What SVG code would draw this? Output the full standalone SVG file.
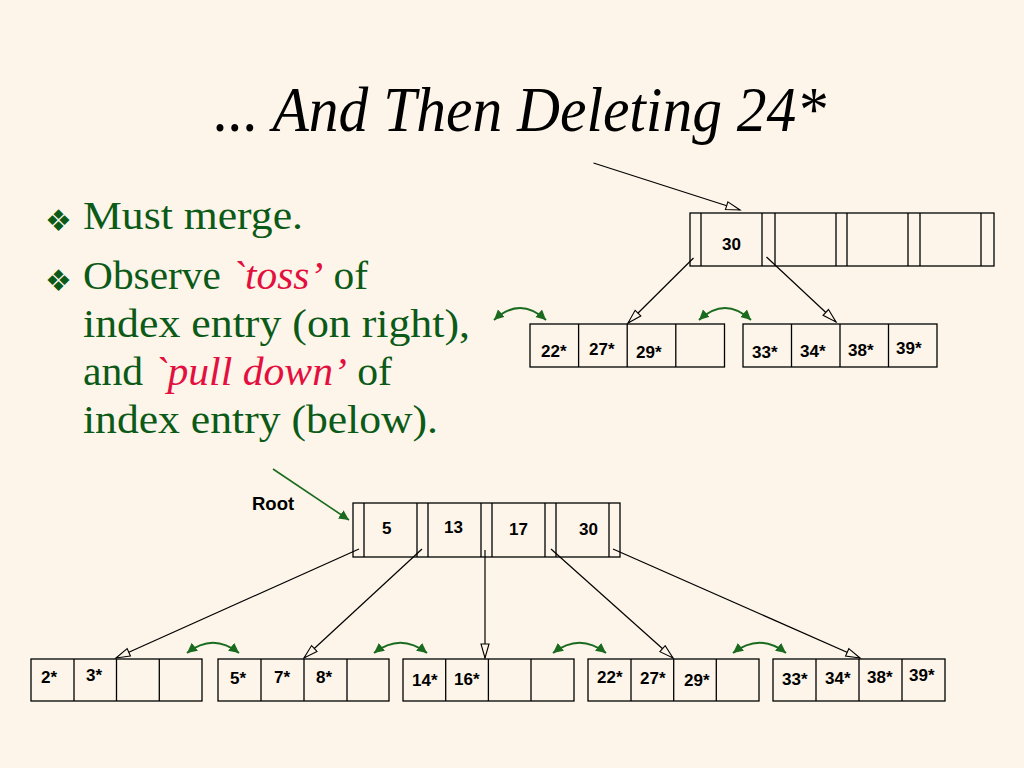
<svg xmlns="http://www.w3.org/2000/svg" width="1024" height="768" viewBox="0 0 1024 768">
<defs>
<style>
.box{fill:none;stroke:#000;stroke-width:1.3}
.div{stroke:#000;stroke-width:1.3}
.num{font-family:"Liberation Sans",Arial,sans-serif;font-weight:bold;font-size:17px;fill:#000}
.ptr{fill:none;stroke:#000;stroke-width:1.2;marker-end:url(#open)}
.sib{fill:none;stroke:#1a6b1f;stroke-width:2;marker-start:url(#gh);marker-end:url(#gh)}
.title{font-family:"Liberation Serif","Times New Roman",serif;font-style:italic;font-size:64px;fill:#000}
.body{font-family:"Liberation Serif","Times New Roman",serif;font-size:41px;fill:#0b5a17}
.em{font-style:italic;fill:#e3103f}
.bul{font-family:"DejaVu Sans",sans-serif;font-size:30px;fill:#0b5a17}
</style>
<marker id="open" markerUnits="userSpaceOnUse" markerWidth="18" markerHeight="12" refX="15" refY="5" orient="auto">
<path d="M1,1 L15,5 L1,9 Z" fill="#fdf5e9" stroke="#000" stroke-width="1.1"/>
</marker>
<marker id="gh" markerUnits="userSpaceOnUse" markerWidth="12" markerHeight="12" refX="10" refY="5" orient="auto-start-reverse">
<path d="M0,0 L10,5 L0,10 Z" fill="#1a6b1f"/>
</marker>
</defs>
<rect width="1024" height="768" fill="#fdf5e9"/>

<text class="title" x="520" y="131" text-anchor="middle" textLength="612" lengthAdjust="spacingAndGlyphs">... And Then Deleting 24*</text>

<g id="bullets">
<text class="bul" x="45" y="231">❖</text>
<text class="bul" x="45" y="291">❖</text>
<text class="body" x="83" y="229" textLength="220" lengthAdjust="spacingAndGlyphs">Must merge.</text>
<text class="body" x="83" y="289" textLength="285" lengthAdjust="spacingAndGlyphs">Observe <tspan class="em">`toss’</tspan> of</text>
<text class="body" x="83" y="337" textLength="387" lengthAdjust="spacingAndGlyphs">index entry (on right),</text>
<text class="body" x="83" y="385" textLength="309" lengthAdjust="spacingAndGlyphs">and <tspan class="em">`pull down’</tspan> of</text>
<text class="body" x="83" y="433" textLength="355" lengthAdjust="spacingAndGlyphs">index entry (below).</text>
</g>

<g id="top-index">
<rect class="box" x="690" y="213" width="304" height="53"/>
<path class="div" d="M701,213V266M762,213V266M775,213V266M836,213V266M847,213V266M908,213V266M920,213V266M981,213V266"/>
<text class="num" x="722" y="250">30</text>
</g>

<g id="top-leaf-1">
<rect class="box" x="530" y="324" width="194.5" height="43"/>
<path class="div" d="M578.6,324V367M627.2,324V367M675.8,324V367"/>
<text class="num" x="541" y="357">22*</text>
<text class="num" x="589" y="355">27*</text>
<text class="num" x="636" y="358">29*</text>
</g>

<g id="top-leaf-2">
<rect class="box" x="743" y="324" width="194" height="43"/>
<path class="div" d="M791.5,324V367M840,324V367M888.5,324V367"/>
<text class="num" x="752" y="358">33*</text>
<text class="num" x="800" y="357">34*</text>
<text class="num" x="848" y="356">38*</text>
<text class="num" x="896" y="354">39*</text>
</g>

<g id="root-label">
<text class="num" x="252" y="510" style="font-size:18.5px">Root</text>
</g>

<g id="root">
<rect class="box" x="353" y="503" width="267" height="54"/>
<path class="div" d="M364,503V557M417,503V557M428,503V557M481,503V557M492,503V557M545,503V557M556,503V557M609,503V557"/>
<text class="num" x="382" y="534">5</text>
<text class="num" x="444" y="533">13</text>
<text class="num" x="509" y="535">17</text>
<text class="num" x="579" y="535">30</text>
</g>

<g id="leaf-1">
<rect class="box" x="31" y="659" width="171" height="42"/>
<path class="div" d="M74,659V701M116.5,659V701M159.3,659V701"/>
<text class="num" x="41" y="683">2*</text>
<text class="num" x="86" y="681">3*</text>
</g>

<g id="leaf-2">
<rect class="box" x="218" y="659" width="171" height="42"/>
<path class="div" d="M261,659V701M304,659V701M347,659V701"/>
<text class="num" x="230" y="684">5*</text>
<text class="num" x="274" y="683">7*</text>
<text class="num" x="316" y="683">8*</text>
</g>

<g id="leaf-3">
<rect class="box" x="403" y="659" width="171" height="42"/>
<path class="div" d="M445.7,659V701M488.4,659V701M531,659V701"/>
<text class="num" x="412" y="686">14*</text>
<text class="num" x="454" y="685">16*</text>
</g>

<g id="leaf-4">
<rect class="box" x="588" y="659" width="171" height="42"/>
<path class="div" d="M631,659V701M673.7,659V701M716.3,659V701"/>
<text class="num" x="597" y="683">22*</text>
<text class="num" x="640" y="684">27*</text>
<text class="num" x="684" y="686">29*</text>
</g>

<g id="leaf-5">
<rect class="box" x="773" y="659" width="172" height="42"/>
<path class="div" d="M816,659V701M859,659V701M902,659V701"/>
<text class="num" x="782" y="685">33*</text>
<text class="num" x="825" y="684">34*</text>
<text class="num" x="867" y="683">38*</text>
<text class="num" x="909" y="681">39*</text>
</g>

<g id="connectors">
<line class="ptr" x1="593.5" y1="163" x2="740" y2="210"/>
<line class="ptr" x1="693.5" y1="258" x2="628" y2="323"/>
<line class="ptr" x1="766.5" y1="257" x2="836" y2="322"/>
<line class="ptr" x1="359" y1="549" x2="116" y2="658"/>
<line class="ptr" x1="422" y1="549" x2="304" y2="658"/>
<line class="ptr" x1="485" y1="550" x2="485" y2="658"/>
<line class="ptr" x1="551" y1="549" x2="673" y2="658"/>
<line class="ptr" x1="613" y1="549" x2="860" y2="658"/>
<line x1="273" y1="469" x2="349" y2="520" stroke="#1a6b1f" stroke-width="1.6" marker-end="url(#gh)"/>
<path class="sib" d="M494,320 Q520,296 546,320"/>
<path class="sib" d="M699,320 Q725,296 751,320"/>
<path class="sib" d="M187,653 Q213,632.4 239,653"/>
<path class="sib" d="M374,653 Q400.5,632.4 427,653"/>
<path class="sib" d="M553,653 Q579.5,632.4 606,653"/>
<path class="sib" d="M733,653 Q759.5,632.4 786,653"/>
</g>
</svg>
